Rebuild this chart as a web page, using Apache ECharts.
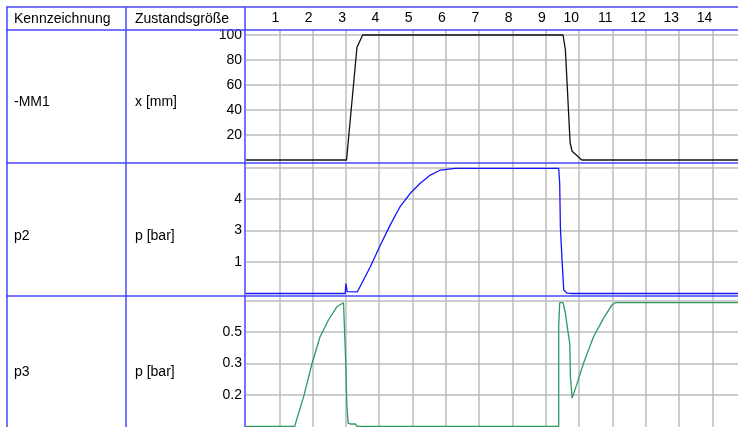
<!DOCTYPE html>
<html>
<head>
<meta charset="utf-8">
<script src="https://cdn.jsdelivr.net/npm/echarts@6/dist/echarts.min.js"></script>
<style>
  html, body { margin: 0; padding: 0; background: #fff; }
  #chart { width: 738px; height: 427px; }
</style>
</head>
<body>
<div id="chart"></div>
<script>
// time axis (columns 1..14)
const timeTicks = [1, 2, 3, 4, 5, 6, 7, 8, 9, 10, 11, 12, 13, 14];
const timeMax = 14.68;

// -MM1  x [mm]
const mm1Time = [0, 3.0, 3.31, 3.48, 9.46, 9.53, 9.67, 9.73, 10.02, 14.68];
const mm1Val  = [0, 0, 90, 100, 100, 88, 14, 7, 0, 0];
const mm1TickLabels = ['', '20', '40', '60', '80', '100'];

// p2  p [bar]  (values in grid steps, labels as printed)
const p2Time = [0, 2.96, 2.98, 3.02, 3.32, 3.71, 4.01, 4.30, 4.60, 4.90, 5.20, 5.50, 5.80, 6.25,
                9.33, 9.36, 9.38, 9.43, 9.48, 9.58, 9.73, 14.68];
const p2Val  = [0, 0, 0.32, 0.06, 0.05, 0.85, 1.54, 2.17, 2.76, 3.18, 3.50, 3.76, 3.92, 3.97,
                3.97, 3.50, 2.12, 1.06, 0.11, 0.01, 0, 0];
const p2TickLabels = ['', '1', '3', '4'];

// p3  p [bar]
const p3Time = [0, 1.45, 1.72, 1.97, 2.21, 2.46, 2.71, 2.91, 2.96, 2.98, 3.01, 3.05, 3.11, 3.26, 3.32,
                9.33, 9.33, 9.36, 9.46, 9.53, 9.60, 9.66, 9.68, 9.73, 9.88, 10.07, 10.37, 10.67, 10.92, 11.02, 14.68];
const p3Val  = [0, 0, 0.95, 2.0, 2.85, 3.38, 3.80, 3.93, 3.93, 1.90, 0.63, 0.1, 0.08, 0.08, 0,
                0, 3.17, 3.93, 3.93, 3.59, 3.06, 2.64, 1.58, 0.90, 1.37, 2.01, 2.85, 3.44, 3.86, 3.93, 3.93];
const p3TickLabels = ['', '0.2', '0.3', '0.5'];

// table text
const rowNames = ['-MM1', 'p2', 'p3'];
const rowUnits = ['x [mm]', 'p [bar]', 'p [bar]'];
const headers = ['Kennzeichnung', 'Zustandsgröße'];

const zip = (xs, ys) => xs.map((x, i) => [x, ys[i]]);
const pick = (labels, step) => v => {
  const k = v / step;
  return Math.abs(k - Math.round(k)) < 1e-6 ? (labels[Math.round(k)] || '') : '';
};

const FONT = '"Liberation Sans", Arial, sans-serif';
const BLUE = '#4646ff';
const GRID = '#bcbcbc';

const chart = echarts.init(document.getElementById('chart'), null, { renderer: 'canvas' });

const splitY = { show: true, showMinLine: false, showMaxLine: false, lineStyle: { color: GRID, width: 1.5 } };
const yLabel = (labels, step) => ({
  show: true, margin: 4, fontSize: 14, color: '#000', fontFamily: FONT, formatter: pick(labels, step)
});
const hiddenX = (i) => ({ type: 'value', gridIndex: i, min: 0, max: timeMax, show: false });

// table lines
const hLines = [7, 30, 163, 296];
const vLines = [7, 126, 245];
const lineEls = [];
hLines.forEach(y => lineEls.push({ type: 'line', z: 100, shape: { x1: 6, y1: y, x2: 738, y2: y }, style: { stroke: BLUE, lineWidth: 1.5 } }));
vLines.forEach(x => lineEls.push({ type: 'line', z: 100, shape: { x1: x, y1: 7, x2: x, y2: 427 }, style: { stroke: BLUE, lineWidth: 1.5 } }));

const rowY = [102, 236, 372];
const textEls = [];
headers.forEach((t, i) => textEls.push({ type: 'text', z: 101, style: { text: t, x: i ? 135 : 14, y: 19, font: '14px ' + FONT, fill: '#000', verticalAlign: 'middle' } }));
rowNames.forEach((t, i) => {
  textEls.push({ type: 'text', z: 101, style: { text: t, x: 14, y: rowY[i], font: '14px ' + FONT, fill: '#000', verticalAlign: 'middle' } });
  textEls.push({ type: 'text', z: 101, style: { text: rowUnits[i], x: 135, y: rowY[i], font: '14px ' + FONT, fill: '#000', verticalAlign: 'middle' } });
});

const option = {
  animation: false,
  grid: [
    { left: 246, top: 30, width: 492, height: 130 },
    { left: 246, top: 163, width: 492, height: 130.5 },
    { left: 246, top: 297, width: 492, height: 129.5 },
    { left: 246, top: 30, width: 492, height: 397 }
  ],
  xAxis: [
    hiddenX(0), hiddenX(1), hiddenX(2),
    {
      type: 'value', gridIndex: 3, position: 'top', min: 0, max: timeMax, interval: 1,
      axisLine: { show: false }, axisTick: { show: false },
      axisLabel: {
        margin: 5, align: 'right', fontSize: 14, color: '#000', fontFamily: FONT,
        formatter: v => (timeTicks.indexOf(v) >= 0 ? String(v) : '')
      },
      splitLine: { show: true, showMinLine: false, showMaxLine: false, lineStyle: { color: GRID, width: 1.5 } }
    }
  ],
  yAxis: [
    { type: 'value', gridIndex: 0, min: 0, max: 104, interval: 20, axisLine: { show: false }, axisTick: { show: false },
      axisLabel: yLabel(mm1TickLabels, 20), splitLine: splitY },
    { type: 'value', gridIndex: 1, min: 0, max: 4.143, interval: 1, axisLine: { show: false }, axisTick: { show: false },
      axisLabel: yLabel(p2TickLabels, 1), splitLine: splitY },
    { type: 'value', gridIndex: 2, min: 0, max: 4.111, interval: 1, axisLine: { show: false }, axisTick: { show: false },
      axisLabel: yLabel(p3TickLabels, 1), splitLine: splitY },
    { type: 'value', gridIndex: 3, min: 0, max: 1, show: false }
  ],
  series: [
    { type: 'line', xAxisIndex: 0, yAxisIndex: 0, data: zip(mm1Time, mm1Val), symbol: 'none', clip: false,
      lineStyle: { color: '#111', width: 1.3 } },
    { type: 'line', xAxisIndex: 1, yAxisIndex: 1, data: zip(p2Time, p2Val), symbol: 'none', clip: false,
      lineStyle: { color: '#1414ff', width: 1.3 } },
    { type: 'line', xAxisIndex: 2, yAxisIndex: 2, data: zip(p3Time, p3Val), symbol: 'none', clip: false,
      lineStyle: { color: '#2e9a60', width: 1.3 } }
  ],
  graphic: lineEls.concat(textEls)
};

chart.setOption(option);
</script>
</body>
</html>
